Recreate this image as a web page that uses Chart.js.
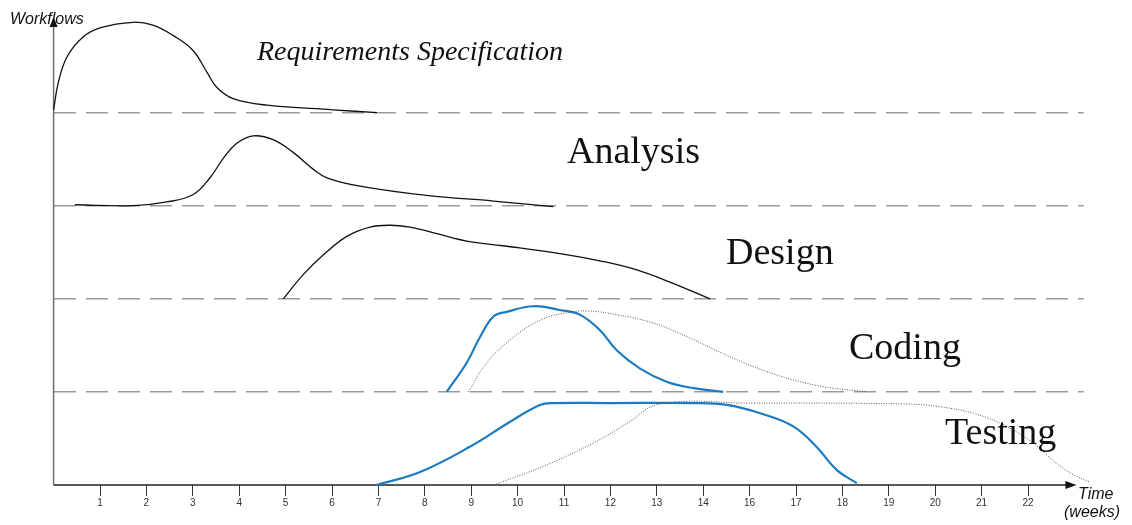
<!DOCTYPE html>
<html>
<head>
<meta charset="utf-8">
<title>Workflows over time</title>
<script src="https://cdn.jsdelivr.net/npm/chart.js@4.4.0/dist/chart.umd.min.js"></script>
<style>
    body { margin: 0; background: #fff; }
    #caixa { position: relative; width: 1132px; height: 525px; }
</style>
</head>
<body>
<div id="caixa"><canvas id="grafico"></canvas></div>
<script>
// positions of the ticks on the time axis and the text under them (the picture skips 15)
const tickPos = [1, 2, 3, 4, 5, 6, 7, 8, 9, 10, 11, 12, 13, 14, 15, 16, 17, 18, 19, 20, 21];
const tickLabels = ['1', '2', '3', '4', '5', '6', '7', '8', '9', '10', '11', '12', '13', '14',
                    '16', '17', '18', '19', '20', '21', '22'];

// band boundaries (dashed lines) and the name of each workflow band
const bandLines = [1, 2, 3, 4];
const phases = ['Requirements Specification', 'Analysis', 'Design', 'Coding', 'Testing'];

// x = tick position, y = band units (band n lies between n and n+1)
const reqX = [0, 0.1, 0.29, 0.63, 1.0, 1.71, 2.14, 2.57, 3.0, 3.31, 3.52, 3.87, 4.6, 6.02, 6.97];
const reqY = [4.03, 4.32, 4.60, 4.81, 4.91, 4.97, 4.94, 4.83, 4.67, 4.43, 4.27, 4.15, 4.08, 4.03, 4.0];

const anaX = [0.46, 1.72, 2.44, 3.01, 3.37, 3.66, 3.95, 4.30, 4.73, 5.17, 5.60, 5.89, 6.60, 8.04, 9.48, 10.77];
const anaY = [3.01, 3.00, 3.04, 3.12, 3.30, 3.51, 3.67, 3.75, 3.71, 3.57, 3.39, 3.30, 3.21, 3.11, 3.05, 2.99];

const desX = [4.95, 5.38, 5.81, 6.32, 6.82, 7.25, 7.68, 8.26, 8.90, 9.69, 10.98, 11.85, 12.57, 13.28, 14.15];
const desY = [2.0, 2.26, 2.47, 2.67, 2.77, 2.79, 2.77, 2.70, 2.62, 2.57, 2.48, 2.40, 2.31, 2.18, 2.0];

const codX = [8.47, 8.90, 9.19, 9.48, 9.76, 10.34, 10.91, 11.34, 11.78, 12.13, 12.64, 13.21, 13.79, 14.43];
const codY = [1.0, 1.31, 1.59, 1.81, 1.86, 1.92, 1.88, 1.83, 1.66, 1.45, 1.25, 1.11, 1.04, 1.0];

const codDotX = [8.94, 9.33, 9.84, 10.48, 11.06, 11.49, 12.13, 12.92, 13.71, 14.43, 15.36, 16.44, 17.52];
const codDotY = [1.0, 1.31, 1.56, 1.77, 1.85, 1.87, 1.83, 1.74, 1.58, 1.41, 1.22, 1.07, 1.0];

const tstX = [6.96, 7.90, 8.97, 9.84, 10.48, 10.77, 11.99, 13.79, 14.51, 15.23, 15.94, 16.44, 16.88, 17.31];
const tstY = [0, 0.14, 0.41, 0.68, 0.86, 0.88, 0.88, 0.88, 0.86, 0.77, 0.63, 0.41, 0.16, 0.02];

const tstDotX = [9.48, 10.55, 11.63, 12.35, 13.07, 15.0, 18.39, 19.10, 19.82, 20.54, 21.11, 21.62, 21.98, 22.34];
const tstDotY = [0, 0.20, 0.45, 0.66, 0.87, 0.88, 0.87, 0.84, 0.77, 0.63, 0.45, 0.23, 0.11, 0.03];

function pares(xs, ys) {
    return xs.map((x, i) => ({ x: x, y: ys[i] }));
}

const AZUL = '#1a7bc2';

function serie(xs, ys, tipo) {
    let ds = {
        data: pares(xs, ys),
        pointRadius: 0,
        tension: 0.4,
        fill: false,
        clip: false
    };
    if (tipo == 'preta') {
        ds.borderColor = '#111';
        ds.borderWidth = 1.3;
    } else if (tipo == 'azul') {
        ds.borderColor = AZUL;
        ds.borderWidth = 2.2;
    } else {
        ds.borderColor = '#555';
        ds.borderWidth = 1;
        ds.borderDash = [1, 1.5];
    }
    return ds;
}

// axes with arrows, and the texts on the picture
const desenhos = {
    id: 'desenhos',
    beforeDatasetsDraw(chart) {
        const ctx = chart.ctx;
        const xs = chart.scales.x, ys = chart.scales.y;
        const x0 = xs.getPixelForValue(0);
        const y0 = ys.getPixelForValue(0);
        ctx.save();
        // y axis
        ctx.strokeStyle = '#6e6e6e';
        ctx.lineWidth = 1.5;
        ctx.beginPath();
        ctx.moveTo(x0, y0);
        ctx.lineTo(x0, 26);
        ctx.stroke();
        ctx.fillStyle = '#111';
        ctx.beginPath();
        ctx.moveTo(x0, 17);
        ctx.lineTo(x0 - 4, 27);
        ctx.lineTo(x0 + 4, 27);
        ctx.closePath();
        ctx.fill();
        // x axis
        const xFim = xs.getPixelForValue(22);
        ctx.strokeStyle = '#222';
        ctx.beginPath();
        ctx.moveTo(x0, y0);
        ctx.lineTo(xFim - 8, y0);
        ctx.stroke();
        ctx.beginPath();
        ctx.moveTo(xFim + 2, y0);
        ctx.lineTo(xFim - 9, y0 - 4);
        ctx.lineTo(xFim - 9, y0 + 4);
        ctx.closePath();
        ctx.fill();
        ctx.restore();
    },
    afterDraw(chart) {
        const ctx = chart.ctx;
        ctx.save();
        ctx.fillStyle = '#111';
        ctx.textBaseline = 'alphabetic';
        ctx.textAlign = 'left';

        ctx.font = 'italic 16px "Liberation Sans", Arial, sans-serif';
        ctx.fillText('Workflows', 10, 24);
        ctx.fillText('Time', 1078, 499);
        ctx.fillText('(weeks)', 1064, 517);

        ctx.font = 'italic 28px "Liberation Serif", "DejaVu Serif", serif';
        ctx.fillText(phases[0], 257, 60);
        ctx.font = '38px "Liberation Serif", "DejaVu Serif", serif';
        ctx.fillText(phases[1], 567, 163);
        ctx.fillText(phases[2], 726, 264);
        ctx.fillText(phases[3], 849, 359);
        ctx.fillText(phases[4], 945, 444);
        ctx.restore();
    }
};

const config = {
    type: 'line',
    data: {
        datasets: [
            serie(reqX, reqY, 'preta'),
            serie(anaX, anaY, 'preta'),
            serie(desX, desY, 'preta'),
            serie(codDotX, codDotY, 'pontos'),
            serie(codX, codY, 'azul'),
            serie(tstDotX, tstDotY, 'pontos'),
            serie(tstX, tstY, 'azul')
        ]
    },
    options: {
        responsive: true,
        maintainAspectRatio: false,
        animation: false,
        layout: { padding: { top: 19.5, left: 53.6, right: 48.3, bottom: 0 } },
        plugins: {
            legend: { display: false },
            tooltip: { enabled: false }
        },
        scales: {
            x: {
                type: 'linear',
                min: 0,
                max: 22.2,
                afterBuildTicks: (scale) => {
                    scale.ticks = tickPos.map(v => ({ value: v }));
                },
                afterFit: (scale) => { scale.height = 40; },
                border: { display: false },
                grid: {
                    drawOnChartArea: false,
                    drawTicks: true,
                    tickLength: 11,
                    color: '#333',
                    lineWidth: 1
                },
                ticks: {
                    autoSkip: false,
                    maxRotation: 0,
                    padding: 1,
                    color: '#333',
                    font: { family: '"Liberation Sans", Arial, sans-serif', size: 10 },
                    callback: (v, i) => tickLabels[i]
                }
            },
            y: {
                type: 'linear',
                min: 0,
                max: 5,
                afterBuildTicks: (scale) => {
                    scale.ticks = bandLines.map(v => ({ value: v }));
                },
                afterFit: (scale) => { scale.width = 0; },
                border: { display: false, dash: [22, 10] },
                grid: {
                    drawTicks: false,
                    color: '#9a9a9a',
                    lineWidth: 1.5
                },
                ticks: { display: false }
            }
        }
    },
    plugins: [desenhos]
};

new Chart(document.getElementById('grafico'), config);
</script>
</body>
</html>
